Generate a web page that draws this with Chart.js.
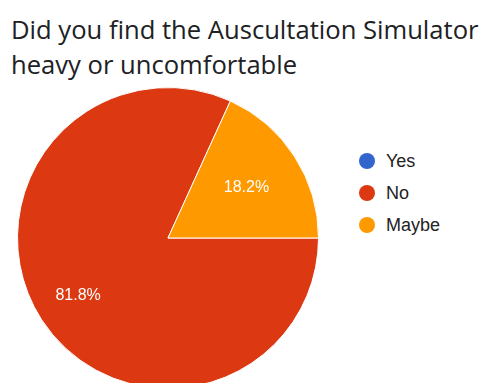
<!DOCTYPE html>
<html><head><meta charset="utf-8">
<script src="https://cdn.jsdelivr.net/npm/chart.js@4/dist/chart.umd.min.js"></script>
<style>
html,body{margin:0;padding:0;width:485px;height:383px;overflow:hidden;background:#fff;}
#title{position:absolute;left:11px;top:12px;font-family:"Open Sans",Roboto,sans-serif;font-size:25.6px;line-height:35px;color:#202124;white-space:nowrap;}
#wrap{position:absolute;left:17px;top:87px;width:302px;height:302px;}
#legend{position:absolute;left:359px;top:145px;font-family:"Liberation Sans",Arial,sans-serif;font-size:18px;color:#222;}
.li{height:32px;display:flex;align-items:center;}
.dot{width:16px;height:16px;border-radius:50%;margin-right:11px;}
</style></head><body>
<div id="title">Did you find the Auscultation Simulator<br>heavy or uncomfortable</div>
<div id="wrap"><canvas id="c"></canvas></div>
<div id="legend"></div>
<script>
const categories = ["Yes", "No", "Maybe"];
const values = [0, 81.8, 18.2];
const colors = ["#3366cc", "#dc3912", "#ff9900"];

const leg = document.getElementById('legend');
categories.forEach((c, i) => {
  const d = document.createElement('div'); d.className = 'li';
  d.innerHTML = '<span class="dot" style="background:' + colors[i] + '"></span><span>' + c + '</span>';
  leg.appendChild(d);
});

const labelPlugin = {
  id: 'sliceLabels',
  afterDatasetsDraw(chart, args, opts) {
    const ctx = chart.ctx;
    const meta = chart.getDatasetMeta(0);
    const total = values.reduce((a, b) => a + b, 0);
    ctx.save();
    ctx.fillStyle = '#ffffff';
    ctx.font = '16px "Liberation Sans", Arial, sans-serif';
    ctx.textAlign = 'center';
    ctx.textBaseline = 'middle';
    meta.data.forEach((arc, i) => {
      if (!values[i]) return;
      const p = arc.getProps(['x', 'y', 'startAngle', 'endAngle', 'outerRadius'], true);
      const mid = (p.startAngle + p.endAngle) / 2;
      const r = p.outerRadius * (opts.fractions[i] || 0.65);
      ctx.fillText((values[i] / total * 100).toFixed(1) + '%', p.x + Math.cos(mid) * r, p.y + Math.sin(mid) * r);
    });
    ctx.restore();
  }
};

new Chart(document.getElementById('c'), {
  type: 'pie',
  data: {
    labels: categories,
    datasets: [{ data: values, backgroundColor: colors, borderColor: '#ffffff', borderWidth: 1 }]
  },
  options: {
    responsive: true,
    maintainAspectRatio: false,
    animation: false,
    rotation: 90,
    layout: { padding: 0 },
    plugins: {
      legend: { display: false },
      tooltip: { enabled: false },
      sliceLabels: { fractions: [0.65, 0.71, 0.62] }
    }
  },
  plugins: [labelPlugin]
});
</script>
</body></html>
